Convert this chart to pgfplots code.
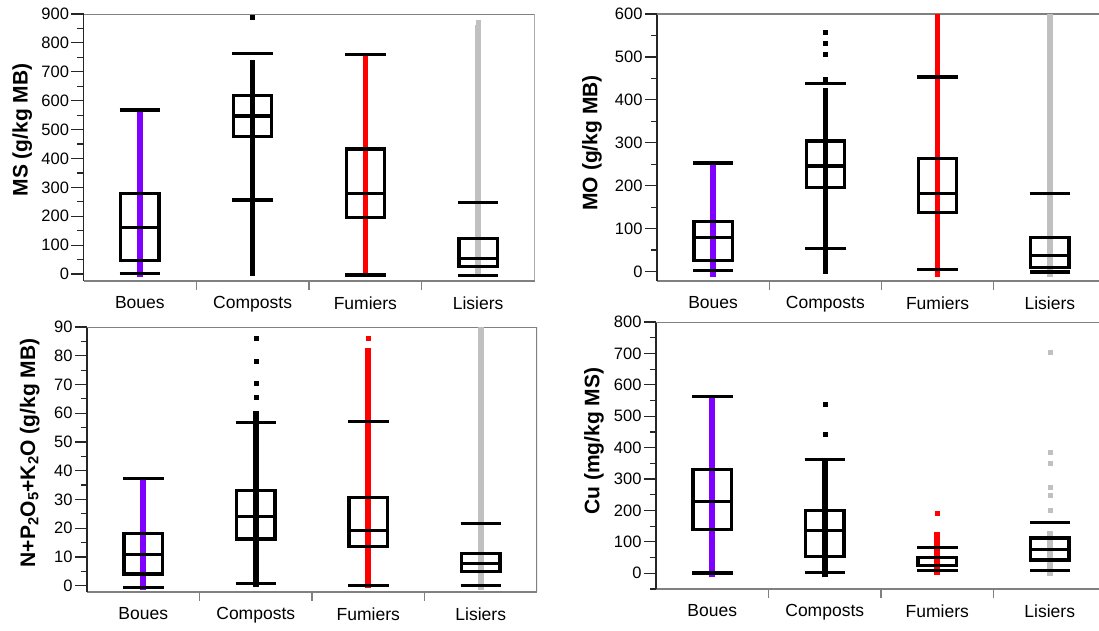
\documentclass[border=0pt]{standalone}
\usepackage{fontspec}
\setmainfont{Liberation Sans}
\usepackage{pgfplots}
\pgfplotsset{compat=1.18}

\definecolor{cpurple}{RGB}{128,0,255}
\definecolor{cred}{RGB}{255,0,0}
\definecolor{cgray}{RGB}{192,192,192}
\definecolor{framegray}{RGB}{128,128,128}

\pgfplotsset{
  panel/.style={
    scale only axis, anchor=south west,
    xmin=-0.5, xmax=3.5,
    axis x line*=bottom, axis y line*=left,
    x axis line style={draw=framegray, line width=1.2pt, -},
    y axis line style={draw=black!85, line width=1.2pt, -},
    xtick={0,1,2,3}, xticklabels={Boues,Composts,Fumiers,Lisiers},
    major x tick style={draw=none},
    extra x ticks={0.5,1.5,2.5}, extra x tick labels={},
    extra x tick style={major x tick style={draw=framegray, line width=1.2pt}, major tick length=9pt},
    tick align=outside,
    ytick style={draw=black!85, line width=1.2pt},
    major tick length=12pt, minor tick length=6pt,
    minor y tick num=1,
    /pgf/number format/assume math mode=true,
    yticklabel style={font=\fontsize{16.5}{17}\selectfont, xshift=1pt},
    xticklabel style={font=\fontsize{17.5}{18}\selectfont},
    ylabel style={font=\bfseries\fontsize{21}{22}\selectfont, anchor=center},
  },
}

% position, colour, band low, band high, lower cap, Q1, median, Q3, upper cap
\newcommand{\bx}[9]{%
  \pgfmathsetmacro{\xl}{#1-0.17}\pgfmathsetmacro{\xr}{#1+0.17}%
  \pgfmathsetmacro{\cl}{#1-0.18}\pgfmathsetmacro{\cr}{#1+0.18}%
  \addplot[#2, line width=5.6pt, forget plot] coordinates {(#1,#3) (#1,#4)};
  \addplot[black, line width=3.3pt, line join=miter, forget plot]
    coordinates {(\xl,#6) (\xr,#6) (\xr,#8) (\xl,#8)} -- cycle;
  \addplot[black, line width=3.1pt, forget plot] coordinates {(\xl,#7) (\xr,#7)};
  \addplot[black, line width=3.2pt, forget plot] coordinates {(\cl,#5) (\cr,#5)};
  \addplot[black, line width=3.2pt, forget plot] coordinates {(\cl,#9) (\cr,#9)};
}
\newcommand{\topright}{\draw[framegray, line width=1.2pt] (rel axis cs:0,1) -- (rel axis cs:1,1) -- (rel axis cs:1,0);}

\begin{document}
\begin{tikzpicture}
\path[use as bounding box] (0pt,0pt) rectangle (1099pt,630pt);

% MS
\begin{axis}[panel, at={(83.5pt,349pt)}, width=451pt, height=267pt,
  ymin=-24, ymax=900, ytick={0,100,...,900},
  ylabel={MS (g/kg MB)}, ylabel style={at={(axis description cs:-0.136,0.566)}}]
\topright
\bx{0}{cpurple}{-11}{560}{2}{48}{160}{279}{568}
\bx{1}{black}{-7}{741}{256}{475}{547}{617}{764}
\bx{2}{cred}{-11}{760}{-3}{196}{279}{433}{760}
\bx{3}{cgray}{-6}{862}{-6}{25}{53}{122}{248}
\addplot[only marks, mark=square*, mark size=2pt, black] coordinates {(1,889)};
\addplot[only marks, mark=square*, mark size=2pt, cgray] coordinates {(3,873)};
\end{axis}

% MO
\begin{axis}[panel, at={(657pt,349pt)}, width=449pt, height=267pt,
  ymin=-22, ymax=600, ytick={0,100,...,600},
  ylabel={MO (g/kg MB)}, ylabel style={at={(axis description cs:-0.145,0.517)}}]
\topright
\bx{0}{cpurple}{-12}{248}{2}{25}{80}{116}{253}
\bx{1}{black}{-5}{427}{53}{196}{246}{304}{439}
\bx{2}{cred}{-12}{600}{4}{137}{182}{263}{453}
\bx{3}{cgray}{-12}{600}{-1}{9}{37}{79}{182}
\addplot[only marks, mark=square*, mark size=2pt, black] coordinates {(1,449) (1,507) (1,532) (1,557)};
\end{axis}

% N+P2O5+K2O
\begin{axis}[panel, at={(87pt,38pt)}, width=450pt, height=265pt,
  ymin=-2.2, ymax=90, ytick={0,10,...,90},
  ylabel={N+P\textsubscript{2}O\textsubscript{5}+K\textsubscript{2}O (g/kg MB)},
  ylabel style={at={(axis description cs:-0.127,0.525)}}]
\topright
\bx{0}{cpurple}{-1.5}{37}{-0.6}{4.1}{10.9}{18.2}{37.4}
\bx{1}{black}{-0.6}{60.8}{0.7}{16.2}{24.1}{33}{56.8}
\bx{2}{cred}{-0.8}{82.8}{0.2}{13.6}{19.1}{30.8}{57.1}
\bx{3}{cgray}{-1.5}{90}{0.2}{4.9}{7.8}{11.1}{21.5}
\addplot[only marks, mark=square*, mark size=2pt, black] coordinates {(1,65.5) (1,70.5) (1,78.1) (1,86.2)};
\addplot[only marks, mark=square*, mark size=2pt, cred] coordinates {(2,86.2)};
\end{axis}

% Cu
\begin{axis}[panel, at={(656pt,41pt)}, width=450pt, height=267pt,
  ymin=-50, ymax=800, ytick={0,100,...,800}, minor ytick={-50,50,...,750},
  ylabel={Cu (mg/kg MS)}, ylabel style={at={(axis description cs:-0.138,0.554)}}]
\topright
\bx{0}{cpurple}{-13}{560}{1}{140}{230}{330}{564}
\bx{1}{black}{-13}{358}{3}{53}{135}{199}{362}
\bx{2}{cred}{-5}{130}{8}{24}{24}{51}{83}
\bx{3}{cgray}{-8}{135}{8}{42}{75}{112}{162}
\addplot[only marks, mark=square*, mark size=2pt, black] coordinates {(1,444) (1,539)};
\addplot[only marks, mark=square*, mark size=2pt, cred] coordinates {(2,190)};
\addplot[only marks, mark=square*, mark size=2pt, cgray] coordinates {(3,201) (3,249) (3,273) (3,352) (3,387) (3,704)};
\end{axis}
\end{tikzpicture}
\end{document}
